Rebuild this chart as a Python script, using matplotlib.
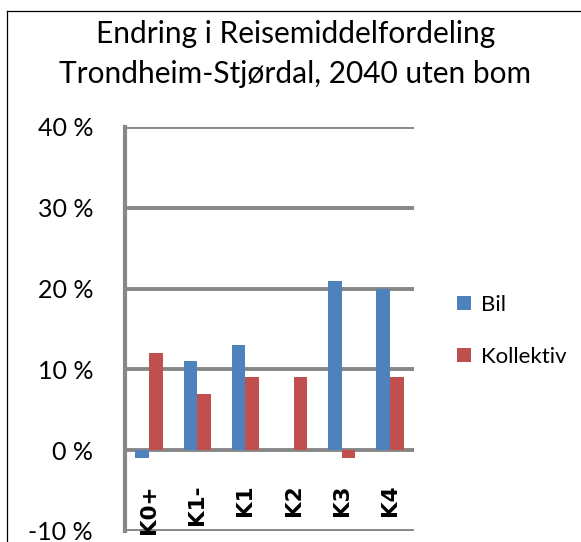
import numpy as np
import matplotlib
matplotlib.use("Agg")
import matplotlib.pyplot as plt
from matplotlib.lines import Line2D

# Endring i reisemiddelfordeling per konsept (prosentpoeng)
categories = ['K0+', 'K1-', 'K1', 'K2', 'K3', 'K4']
bil = [-1, 11, 13, 0, 21, 20]
kollektiv = [12, 7, 9, 9, -1, 9]
yticks = [-10, 0, 10, 20, 30, 40]

BLUE = '#4F81BD'
RED = '#C0504D'
GRID = '#878787'

plt.rcParams['font.family'] = ['Lato', 'DejaVu Sans']

fig = plt.figure(figsize=(5.81, 5.42), dpi=100)
ax = fig.add_axes([125 / 581, 1 - 531 / 542, (414 - 125) / 581, (531 - 127) / 542])

x = np.arange(len(categories))
w = 0.285
ax.bar(x - w / 2, bil, w, color=BLUE, label='Bil', zorder=3)
ax.bar(x + w / 2, kollektiv, w, color=RED, label='Kollektiv', zorder=3)

ax.set_xlim(-0.5, len(categories) - 0.5)
ax.set_ylim(-10, 40)
ax.set_yticks(yticks)
ax.set_yticklabels(['%d %%' % v for v in yticks], fontsize=18)
ax.tick_params(axis='y', length=0, pad=23)
ax.set_xticks([])
for v in yticks:
    ax.axhline(v, color=GRID, lw=2.8, zorder=1, solid_capstyle='butt')

for s in ['top', 'right', 'bottom']:
    ax.spines[s].set_visible(False)
ax.spines['left'].set_color(GRID)
ax.spines['left'].set_linewidth(3.0)

# kategorinavn rett under nullinjen
for xi, name in zip(x, categories):
    ax.text(xi, -4.2, name, rotation=90, ha='center', va='top',
            fontsize=15.5, fontweight='bold', family='DejaVu Sans')

fig.text(0.508, 1 - 34 / 542, 'Endring i Reisemiddelfordeling',
         ha='center', va='center', fontsize=21.5)
fig.text(0.508, 1 - 74 / 542, 'Trondheim-Stjørdal, 2040 uten bom',
         ha='center', va='center', fontsize=21.5)

ax.legend(loc='center left', bbox_to_anchor=(457 / 581, 1 - 331 / 542),
          bbox_transform=fig.transFigure, frameon=False, fontsize=16,
          handlelength=0.62, handleheight=0.62, handletextpad=0.45,
          labelspacing=1.45, borderpad=0, borderaxespad=0)

# ytre ramme
fig.add_artist(Line2D([7 / 581, 7 / 581], [0, 1 - 11 / 542], color='black', lw=0.9))
fig.add_artist(Line2D([7 / 581, 1], [1 - 11 / 542, 1 - 11 / 542], color='black', lw=0.9))

fig.savefig('out.png', dpi=100)
